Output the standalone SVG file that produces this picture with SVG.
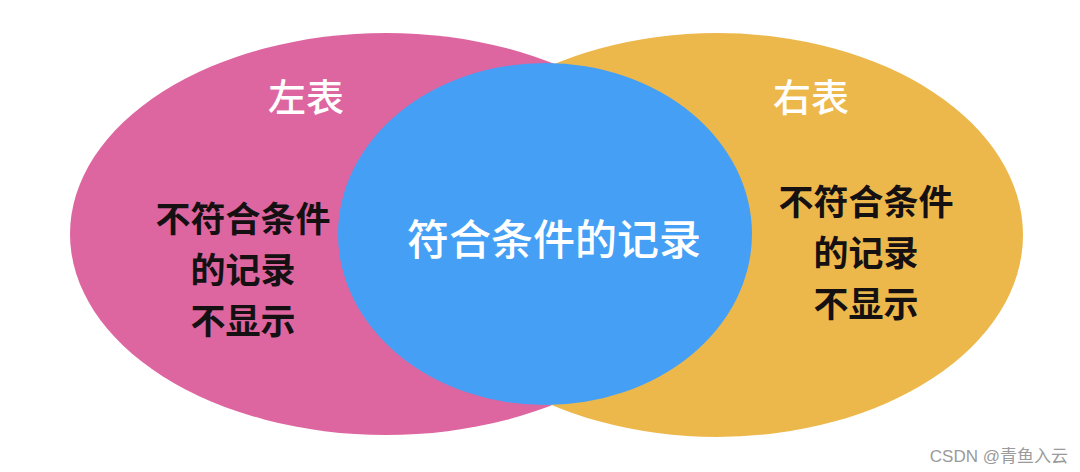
<svg xmlns="http://www.w3.org/2000/svg" width="1080" height="472" viewBox="0 0 1080 472">
<style>
  text { font-family: "Noto Sans CJK SC", "Noto Sans", sans-serif; text-anchor: middle; dominant-baseline: central; }
  .title { fill: #ffffff; font-size: 38px; font-weight: 500; }
  .mid { fill: #ffffff; font-size: 42px; font-weight: 500; }
  .dark { fill: #151012; font-size: 35px; font-weight: 700; }
  .wm { fill: #9a9a9a; font-size: 17px; font-family: "Liberation Sans", "Noto Sans CJK SC", sans-serif; text-anchor: end; dominant-baseline: alphabetic; }
</style>
<rect width="1080" height="472" fill="#ffffff"/>
<g id="left-table">
  <ellipse cx="386" cy="234" rx="316" ry="201" fill="#DD66A0"/>
  <text class="title" x="306" y="94">左表</text>
  <text class="dark" x="243" y="216">不符合条件</text>
  <text class="dark" x="243" y="267">的记录</text>
  <text class="dark" x="243" y="318">不显示</text>
</g>
<g id="right-table">
  <ellipse cx="717" cy="235" rx="306" ry="202" fill="#EDB84B"/>
  <text class="title" x="811" y="94">右表</text>
  <text class="dark" x="866" y="199">不符合条件</text>
  <text class="dark" x="866" y="250">的记录</text>
  <text class="dark" x="866" y="301">不显示</text>
</g>
<g id="matched">
  <ellipse cx="545" cy="234" rx="207" ry="171" fill="#459FF5"/>
  <text class="mid" x="554" y="236">符合条件的记录</text>
</g>
<g id="connectors"></g>
<text class="wm" x="1068" y="462">CSDN @青鱼入云</text>
</svg>
